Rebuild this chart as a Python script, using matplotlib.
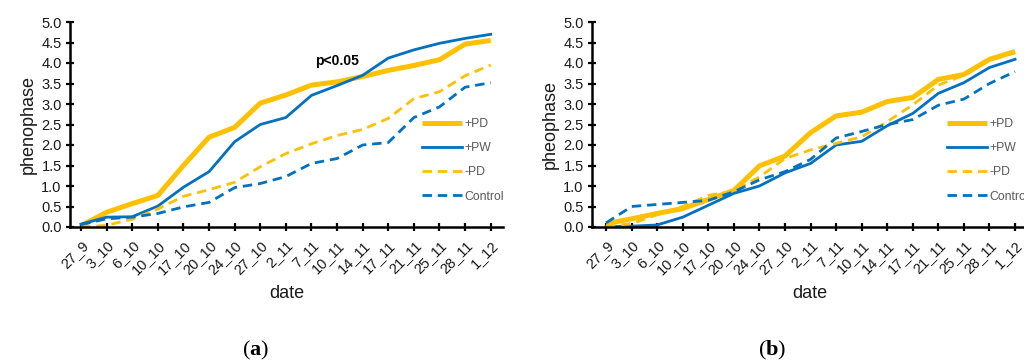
import matplotlib
matplotlib.use("Agg")
import matplotlib.pyplot as plt

plt.rcParams['font.family'] = ['Liberation Sans', 'DejaVu Sans']
plt.rcParams['mathtext.fontset'] = 'custom'
plt.rcParams['mathtext.rm'] = 'Liberation Serif'
plt.rcParams['mathtext.bf'] = 'Liberation Serif:bold'

dates = ['27_9', '3_10', '6_10', '10_10', '17_10', '20_10', '24_10', '27_10',
         '2_11', '7_11', '10_11', '14_11', '17_11', '21_11', '25_11', '28_11', '1_12']
y_ticks = [0.0, 0.5, 1.0, 1.5, 2.0, 2.5, 3.0, 3.5, 4.0, 4.5, 5.0]
series_labels = ['+PD', '+PW', '-PD', 'Control']

# panel (a)
a_pd_plus = [0.03, 0.36, 0.57, 0.77, 1.50, 2.19, 2.43, 3.02, 3.22, 3.46, 3.54,
             3.67, 3.82, 3.94, 4.08, 4.46, 4.55]
a_pw = [0.07, 0.24, 0.25, 0.51, 0.97, 1.35, 2.08, 2.50, 2.67, 3.21, 3.45,
        3.70, 4.12, 4.32, 4.48, 4.60, 4.70]
a_pd_minus = [0.00, 0.04, 0.19, 0.44, 0.75, 0.91, 1.09, 1.47, 1.79, 2.03, 2.23,
              2.38, 2.65, 3.13, 3.30, 3.69, 3.95]
a_control = [0.06, 0.20, 0.24, 0.33, 0.49, 0.60, 0.96, 1.06, 1.23, 1.55, 1.67,
             2.00, 2.06, 2.67, 2.93, 3.41, 3.52]

# panel (b)
b_pd_plus = [0.08, 0.20, 0.33, 0.45, 0.67, 0.89, 1.49, 1.73, 2.30, 2.71, 2.80,
             3.06, 3.16, 3.60, 3.72, 4.09, 4.28]
b_pw = [0.01, 0.02, 0.05, 0.24, 0.53, 0.82, 1.00, 1.32, 1.55, 2.00, 2.09,
        2.47, 2.77, 3.26, 3.52, 3.89, 4.09]
b_pd_minus = [0.02, 0.08, 0.30, 0.50, 0.77, 0.88, 1.22, 1.67, 1.88, 2.04, 2.20,
              2.57, 2.98, 3.46, 3.70, 4.06, 4.25]
b_control = [0.10, 0.50, 0.55, 0.60, 0.65, 0.86, 1.15, 1.35, 1.65, 2.17, 2.33,
             2.50, 2.62, 2.97, 3.12, 3.50, 3.79]

YELLOW = '#FFC000'
BLUE = '#0070C0'
TEXT = '#1a1a1a'

W, H = 1024, 362
fig = plt.figure(figsize=(W / 100, H / 100), dpi=100)


def panel(left_px, right_px, xlim, series, ylabel, xlabel_x, legend_x, tag, tag_x):
    bottom_px, top_px = 227, 22
    ax = fig.add_axes([left_px / W, 1 - bottom_px / H,
                       (right_px - left_px) / W, (bottom_px - top_px) / H])
    x = list(range(len(dates)))
    styles = [
        dict(color=YELLOW, lw=3.6, solid_capstyle='butt'),
        dict(color=BLUE, lw=2.0),
        dict(color=YELLOW, lw=2.0, dashes=(3.4, 2.1)),
        dict(color=BLUE, lw=2.0, dashes=(3.4, 2.1)),
    ]
    handles = []
    for vals, st, lab in zip(series, styles, series_labels):
        h, = ax.plot(x, vals, label=lab, **st)
        handles.append(h)

    ax.set_xlim(*xlim)
    ax.set_ylim(0, 5)
    ax.set_yticks(y_ticks)
    ax.set_yticklabels([f'{v:.1f}' for v in y_ticks], fontsize=10.5, color=TEXT)
    ax.set_xticks(x)
    ax.set_xticklabels(dates, fontsize=10.5, rotation=45, ha='right', va='top',
                       rotation_mode='anchor', color=TEXT)
    for s in ['top', 'right']:
        ax.spines[s].set_visible(False)
    for s in ['left', 'bottom']:
        ax.spines[s].set_linewidth(1.8)
        ax.spines[s].set_color('black')
    ax.tick_params(axis='both', direction='inout', length=6, width=1.6, color='black')
    ax.tick_params(axis='x', pad=5)
    ax.tick_params(axis='y', pad=3)

    ax.set_ylabel(ylabel, fontsize=13, color=TEXT, labelpad=3)
    fig.text(xlabel_x / W, 1 - 293 / H, 'date', ha='center', va='center',
             fontsize=13, color=TEXT)

    leg = fig.legend(handles=handles, loc='upper left',
                     bbox_to_anchor=(legend_x / W, 1 - 118 / H),
                     frameon=False, fontsize=8.8, handlelength=3.3,
                     handletextpad=0.2, labelspacing=1.0, borderpad=0,
                     borderaxespad=0)
    for t in leg.get_texts():
        t.set_color('#595959')

    fig.text(tag_x / W, 1 - 350 / H, r'($\mathbf{' + tag + r'}$)', ha='center',
             va='center', fontsize=16, family='Liberation Serif', color='black')
    return ax


panel(70, 503, (-0.43, 16.48), [a_pd_plus, a_pw, a_pd_minus, a_control],
      'phenophase', 287, 422, 'a', 256)
fig.text(315 / W, 1 - 61 / H, 'p<0.05', fontsize=10, fontweight='bold',
         ha='left', va='center', color='black')

panel(592, 1024, (-0.55, 16.35), [b_pd_plus, b_pw, b_pd_minus, b_control],
      'pheophase', 810, 947, 'b', 772)

fig.savefig('out.png', dpi=100, facecolor='white')
